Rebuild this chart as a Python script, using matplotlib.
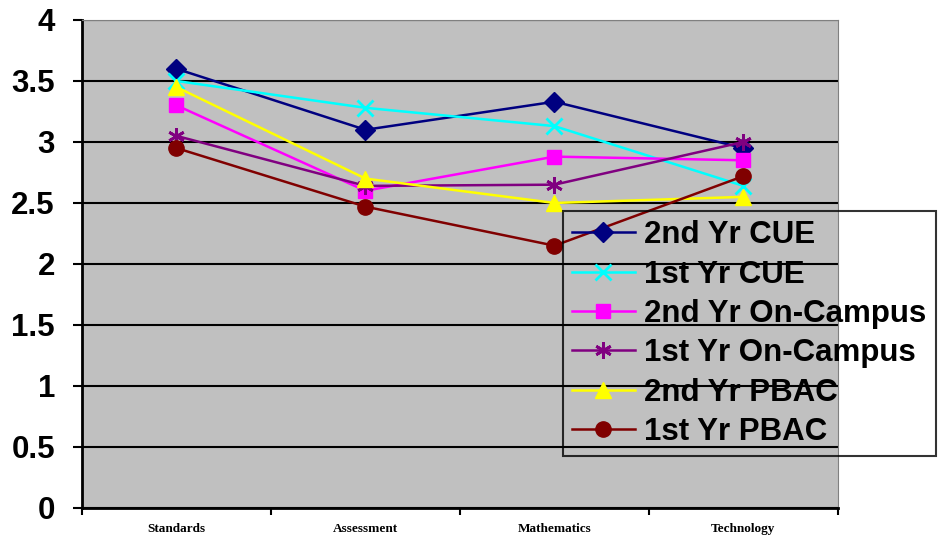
import matplotlib
matplotlib.use("Agg")
import matplotlib.pyplot as plt

categories = ["Standards", "Assessment", "Mathematics", "Technology"]

cue_2nd = [3.6, 3.1, 3.33, 2.95]
cue_1st = [3.5, 3.28, 3.13, 2.64]
campus_2nd = [3.3, 2.6, 2.88, 2.85]
campus_1st = [3.05, 2.64, 2.65, 3.0]
pbac_2nd = [3.45, 2.7, 2.5, 2.55]
pbac_1st = [2.95, 2.47, 2.15, 2.72]

series = [
    ("2nd Yr CUE", cue_2nd, "#000080", "D", 10),
    ("1st Yr CUE", cue_1st, "#00FFFF", "x", 11),
    ("2nd Yr On-Campus", campus_2nd, "#FF00FF", "s", 10.5),
    ("1st Yr On-Campus", campus_1st, "#800080", (6, 2, 0), 12),
    ("2nd Yr PBAC", pbac_2nd, "#FFFF00", "^", 11.5),
    ("1st Yr PBAC", pbac_1st, "#800000", "o", 11),
]

plt.rcParams['font.family'] = ['Liberation Sans', 'DejaVu Sans']

fig = plt.figure(figsize=(9.39, 5.40), dpi=100)
ax = fig.add_axes([0.0873, 0.0593, 0.8051, 0.9037])
ax.set_facecolor("#C0C0C0")

x = range(len(categories))
for name, vals, col, mk, ms in series:
    ax.plot(x, vals, color=col, marker=mk, markersize=ms, linewidth=1.8,
            markeredgewidth=2 if mk in ("x", (6, 2, 0)) else 1,
            markeredgecolor=col, label=name, zorder=3)

ax.set_xlim(-0.5, 3.5)
ax.set_ylim(0, 4)
ax.set_yticks([0, 0.5, 1, 1.5, 2, 2.5, 3, 3.5, 4])
ax.set_yticklabels(["0", "0.5", "1", "1.5", "2", "2.5", "3", "3.5", "4"],
                   fontsize=22.5, fontweight="bold")
ax.yaxis.grid(True, color="black", linewidth=1.5)
ax.set_axisbelow(True)

# category labels centered, tick marks on the boundaries
ax.set_xticks([-0.5, 0.5, 1.5, 2.5, 3.5])
ax.set_xticklabels([])
ax.set_xticks(list(x), minor=True)
ax.set_xticklabels(categories, minor=True, fontsize=9.5, fontweight="bold",
                   family="Liberation Serif")
ax.tick_params(axis="x", which="minor", length=0, pad=11)
ax.tick_params(axis="x", which="major", length=5, width=1.5, direction="out")
ax.tick_params(axis="y", length=6.5, width=1.5, direction="out", pad=13)

ax.spines["left"].set_linewidth(2)
ax.spines["bottom"].set_linewidth(2)
ax.spines["top"].set_color("#808080")
ax.spines["right"].set_color("#808080")

leg = ax.legend(loc="upper left", bbox_to_anchor=(0.636, 0.609),
                prop={"weight": "bold", "size": 22.5},
                frameon=True, fancybox=False, edgecolor="black",
                facecolor="none", framealpha=None, borderpad=0.3,
                labelspacing=0.3, handlelength=2.0, handletextpad=0.3,
                borderaxespad=0)
leg.get_frame().set_linewidth(1.5)
leg.set_zorder(5)

fig.savefig("out.png", dpi=100)
